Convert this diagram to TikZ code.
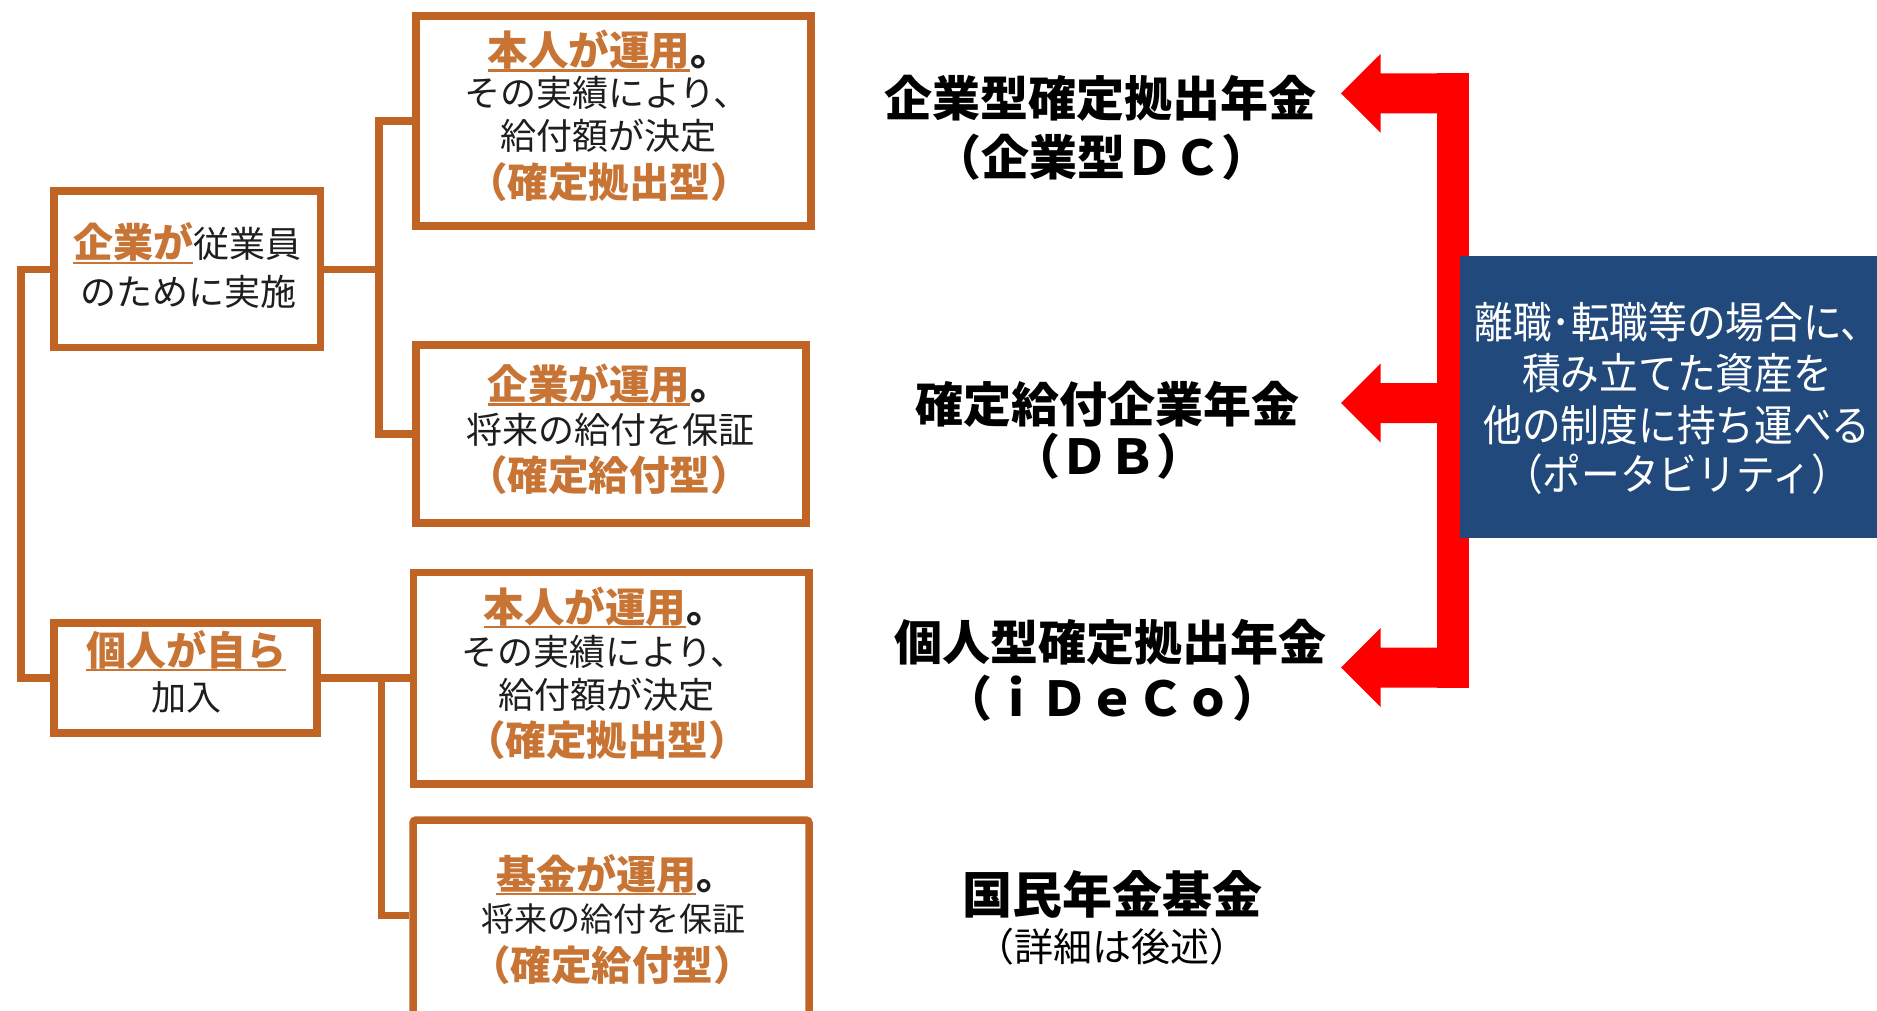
\documentclass[tikz,border=0pt]{standalone}
\usepackage{fontspec}
\setmainfont{Noto Sans CJK JP}
\newfontfamily\jpnarrow[FakeStretch=0.9]{Noto Sans CJK JP}
\definecolor{boxor}{RGB}{192,100,38}
\definecolor{txtor}{RGB}{200,116,52}
\definecolor{navy}{RGB}{33,73,124}
\definecolor{arrred}{RGB}{255,0,0}
\definecolor{ink}{RGB}{30,30,30}
\newsavebox\julbox
\newcommand\julin[1]{\sbox\julbox{#1}\rlap{\rule[-6pt]{\wd\julbox}{2.2pt}}\usebox\julbox}
\newcommand\redarrow[1]{\fill[arrred] (1341,#1) -- ++(39.7,-39.5) -- ++(0,19.5) -- ++(88,0) -- ++(0,40) -- ++(-88,0) -- ++(0,19.5) -- cycle;}
\tikzset{
  box/.style={draw=boxor, line width=7.5pt, inner sep=0, fill=white},
  conn/.style={draw=boxor, line width=7.5pt},
  ln/.style={anchor=base, inner sep=0, outer sep=0},
  bor/.style={ln, text=txtor, font=\bfseries\fontsize{#1}{#1}\selectfont},
  reg/.style={ln, text=ink, font=\fontsize{#1}{#1}\selectfont},
  hd/.style={ln, text=black, font=\bfseries\fontsize{#1}{#1}\selectfont},
  bl/.style={ln, text=white, font=\jpnarrow\fontsize{43}{43}\selectfont},
}
\begin{document}
\begin{tikzpicture}[x=1pt,y=-1pt]
\useasboundingbox (0,0) rectangle (1877,1011);
\fill[white] (0,0) rectangle (1877,1011);
\clip (0,0) rectangle (1877,1011);

% connector junction coordinates
\coordinate (J0) at (21,0);
\coordinate (J1) at (379,0);
\coordinate (J2) at (381.5,0);
\coordinate (c4) at (381.5,915.5);

% boxes
\node[box, minimum width=266.5pt, minimum height=156.5pt] (A) at (187.25,269.25) {};
\node[box, minimum width=263pt, minimum height=110.3pt] (B) at (185.5,677.9) {};
\node[box, minimum width=395pt, minimum height=210pt] (b1) at (613.5,121) {};
\node[box, minimum width=390pt, minimum height=178pt] (b2) at (611,434) {};
\node[box, minimum width=395.5pt, minimum height=211.5pt] (b3) at (611.25,678.25) {};
\node[box, rounded corners=3pt, minimum width=396pt, minimum height=210pt] (b4) at (611,925) {};

% connectors
\draw[conn] (A.west) -- (A.west -| J0) -- (B.west -| J0) -- (B.west);
\draw[conn] (A.east) -- (A.east -| J1);
\draw[conn] (b1.west) -- (b1.west -| J1) -- (b2.west -| J1) -- (b2.west);
\draw[conn] (B.east) -- (B.east -| b3.west);
\draw[conn] (B.east -| J2) -- (c4) -- (b4.west |- c4);

% texts in left boxes
\node[reg=36] (ta1) at (187,258) {{\bfseries\fontsize{40}{40}\selectfont\color{txtor}\julin{企業が}}従業員};
\node[reg=36] (ta2) at (188,305) {のために実施};
\node[bor=40] (tb1) at (186,665) {\julin{個人が自ら}};
\node[reg=35] (tb2) at (186,710) {加入};

% box 1
\node[bor=40.5] (t11) at (609,65.6) {\julin{本人が運用}\textcolor{ink}{。}};
\node[reg=36] (t12) at (607,107) {その実績により、};
\node[reg=36] (t13) at (608,150) {給付額が決定};
\node[bor=40.5] (t14) at (609,197.5) {（確定拠出型）};
% box 2
\node[bor=40.5] (t21) at (609,399.6) {\julin{企業が運用}\textcolor{ink}{。}};
\node[reg=36] (t22) at (610,443.4) {将来の給付を保証};
\node[bor=40.5] (t23) at (609,490.6) {（確定給付型）};
% box 3
\node[bor=40.5] (t31) at (605,622) {\julin{本人が運用}\textcolor{ink}{。}};
\node[reg=36] (t32) at (604,665) {その実績により、};
\node[reg=36] (t33) at (606,708) {給付額が決定};
\node[bor=40.5] (t34) at (607,755.4) {（確定拠出型）};
% box 4
\node[bor=40] (t41) at (616,889) {\julin{基金が運用}\textcolor{ink}{。}};
\node[reg=33] (t42) at (613,931.8) {将来の給付を保証};
\node[bor=40.5] (t43) at (612,980) {（確定給付型）};

% headings
\node[hd=48] (h1a) at (1100,117) {企業型確定拠出年金};
\node[hd=48] (h1b) at (1101,176) {（企業型ＤＣ）};
\node[hd=48] (h2a) at (1107,422) {確定給付企業年金};
\node[hd=48] (h2b) at (1108,474) {（ＤＢ）};
\node[hd=48] (h3a) at (1110,660) {個人型確定拠出年金};
\node[hd=48] (h3b) at (1112,716) {（ｉＤｅＣｏ）};
\node[hd=50] (h4a) at (1112,913) {国民年金基金};
\node[reg=39, text=black] (h4b) at (1112,961) {（詳細は後述）};

% red arrows
\fill[arrred] (1437.3,73.3) rectangle (1468.7,687.5);
\redarrow{93.3}
\redarrow{403}
\redarrow{667.5}

% portability box
\node[fill=navy, inner sep=0, minimum width=425pt, minimum height=282pt, anchor=north west] (port) at (1460,256) {};
\node[bl] (p1) at (1677,338.3) {離職･転職等の場合に、};
\node[bl] (p2) at (1677,389.3) {積み立てた資産を};
\node[bl] (p3) at (1677,441.3) {他の制度に持ち運べる};
\node[bl] (p4) at (1677,490.3) {（ポータビリティ）};
\end{tikzpicture}
\end{document}
